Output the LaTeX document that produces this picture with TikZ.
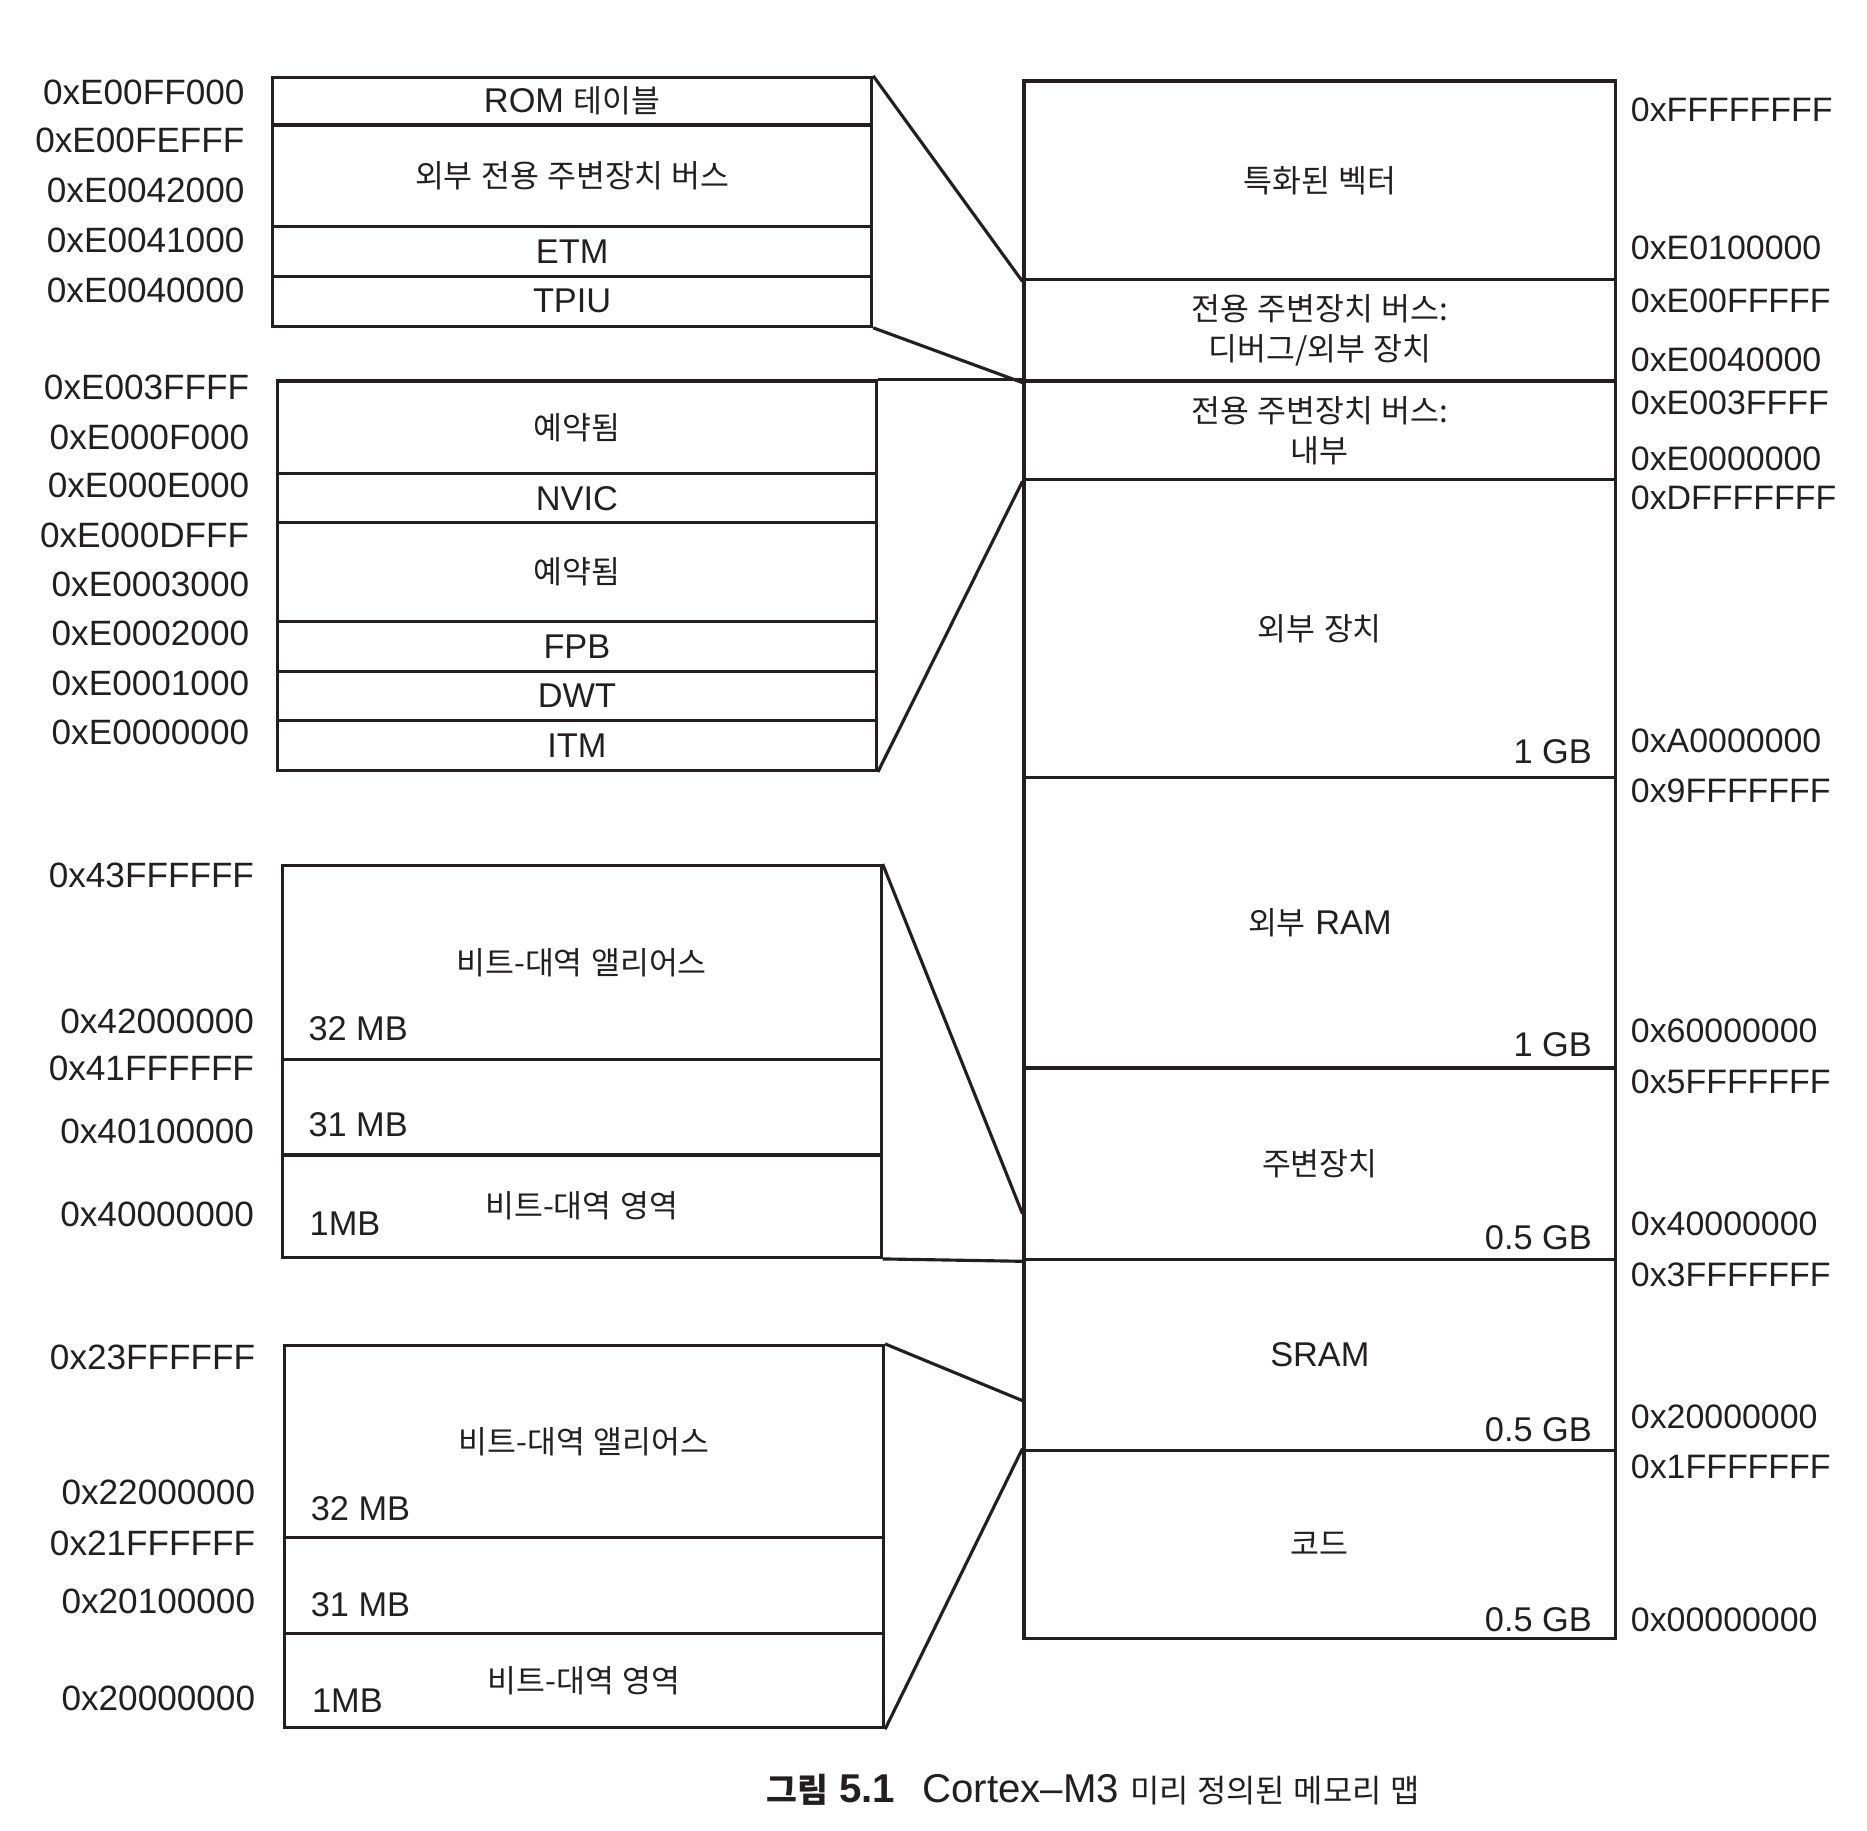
\documentclass[tikz,border=0pt]{standalone}
\usepackage{fontspec}
\setmainfont{Liberation Sans}
\newfontfamily\krfont{Noto Sans CJK KR}[WordSpace=1.2]
\newcommand\kr[1]{{\krfont\fontsize{7.5}{9.6}\selectfont #1}}
\usetikzlibrary{calc}
\definecolor{ink}{HTML}{231F20}
\tikzset{
  every node/.style={font=\fontsize{8.2}{9.6}\selectfont, text=ink},
  cellbox/.style={draw=ink, line width=0.75pt, inner sep=0pt, align=center},
  hexl/.style={inner sep=0pt, font=\fontsize{8.4}{9.6}\selectfont},
  hexr/.style={inner sep=0pt, font=\fontsize{8.1}{9.6}\selectfont},
  conn/.style={draw=ink, line width=0.75pt},
}
% name, x1, y1, x2, y2, text
\newcommand\mcell[6]{\node[cellbox, minimum width={(#4-#2)*0.01cm}, minimum height={(#5-#3)*0.01cm}] (#1) at ({(#2+#4)/2},{(#3+#5)/2}) {#6};}
\begin{document}
\begin{tikzpicture}[x=0.01cm, y=-0.01cm]
\useasboundingbox (0,0) rectangle (1568,1537);

% ---------- right column ----------
\mcell{vec}{860}{68}{1357}{235}{\kr{특화된 벡터}}
\mcell{dbg}{860}{235}{1357}{320}{\kr{전용 주변장치 버스:}\\\kr{디버그/외부 장치}}
\mcell{intl}{860}{320}{1357}{403}{\kr{전용 주변장치 버스:}\\\kr{내부}}
\mcell{ext}{860}{403}{1357}{653}{\kr{외부 장치}}
\mcell{eram}{860}{653}{1357}{897}{\kr{외부} RAM}
\mcell{peri}{860}{897}{1357}{1058}{\kr{주변장치}}
\mcell{sram}{860}{1058}{1357}{1218}{SRAM}
\mcell{code}{860}{1218}{1357}{1376}{\kr{코드}}

\node[anchor=east] (gb1) at ($(ext.south east)+(-9,-23)$) {1 GB};
\node[anchor=east] (gb2) at ($(eram.south east)+(-9,-21)$) {1 GB};
\node[anchor=east] (gb3) at ($(peri.south east)+(-9,-20)$) {0.5 GB};
\node[anchor=east] (gb4) at ($(sram.south east)+(-9,-19)$) {0.5 GB};
\node[anchor=east] (gb5) at ($(code.south east)+(-9,-17)$) {0.5 GB};

\foreach \t/\yy [count=\i] in {0xFFFFFFFF/92, 0xE0100000/208, 0xE00FFFFF/253, 0xE0040000/302,
  0xE003FFFF/338, 0xE0000000/385, 0xDFFFFFFF/418, 0xA0000000/622, 0x9FFFFFFF/664,
  0x60000000/866, 0x5FFFFFFF/909, 0x40000000/1028, 0x3FFFFFFF/1071, 0x20000000/1190,
  0x1FFFFFFF/1232, 0x00000000/1360}
  \node[hexr, anchor=west] (ra\i) at (1369,\yy) {\t};

% ---------- group A ----------
\mcell{rom}{229}{65}{732}{105}{ROM \kr{테이블}}
\mcell{eppb}{229}{105}{732}{190}{\kr{외부 전용 주변장치 버스}}
\mcell{etm}{229}{190}{732}{232}{ETM}
\mcell{tpiu}{229}{232}{732}{274}{TPIU}
\foreach \t/\yy [count=\i] in {0xE00FF000/78, 0xE00FEFFF/118, 0xE0042000/160, 0xE0041000/202, 0xE0040000/244}
  \node[hexl, anchor=east] (la\i) at (206,\yy) {\t};

% ---------- group B ----------
\mcell{res1}{233}{320}{736}{398}{\kr{예약됨}}
\mcell{nvic}{233}{398}{736}{439}{NVIC}
\mcell{res2}{233}{439}{736}{522}{\kr{예약됨}}
\mcell{fpb}{233}{522}{736}{564}{FPB}
\mcell{dwt}{233}{564}{736}{605}{DWT}
\mcell{itm}{233}{605}{736}{647}{ITM}
\foreach \t/\yy [count=\i] in {0xE003FFFF/325, 0xE000F000/367, 0xE000E000/408, 0xE000DFFF/450,
  0xE0003000/491, 0xE0002000/532, 0xE0001000/574, 0xE0000000/615}
  \node[hexl, anchor=east] (lb\i) at (210,\yy) {\t};

% ---------- group C ----------
\mcell{alias1}{237}{727}{740}{890}{\kr{비트-대역 앨리어스}}
\mcell{mid1}{237}{890}{740}{970}{}
\mcell{reg1}{237}{970}{740}{1056}{\kr{비트-대역 영역}}
\node[anchor=west] (c32) at ($(alias1.south west)+(11,-27)$) {32 MB};
\node[anchor=west] (c31) at ($(mid1.south west)+(11,-27)$) {31 MB};
\node[anchor=west] (c1) at ($(reg1.south west)+(12,-30)$) {1MB};
\foreach \t/\yy [count=\i] in {0x43FFFFFF/735, 0x42000000/858, 0x41FFFFFF/897, 0x40100000/950, 0x40000000/1020}
  \node[hexl, anchor=east] (lc\i) at (214,\yy) {\t};

% ---------- group D ----------
\mcell{alias2}{239}{1130}{742}{1291}{\kr{비트-대역 앨리어스}}
\mcell{mid2}{239}{1291}{742}{1372}{}
\mcell{reg2}{239}{1372}{742}{1451}{\kr{비트-대역 영역}}
\node[anchor=west] (d32) at ($(alias2.south west)+(11,-25)$) {32 MB};
\node[anchor=west] (d31) at ($(mid2.south west)+(11,-26)$) {31 MB};
\node[anchor=west] (d1) at ($(reg2.south west)+(12,-24)$) {1MB};
\foreach \t/\yy [count=\i] in {0x23FFFFFF/1140, 0x22000000/1253, 0x21FFFFFF/1296, 0x20100000/1345, 0x20000000/1426}
  \node[hexl, anchor=east] (ld\i) at (215,\yy) {\t};

% ---------- connectors ----------
\draw[conn] (rom.north east) -- (vec.south west);
\draw[conn] (tpiu.south east) -- (dbg.south west);
\draw[conn] (res1.north east) -- (intl.north west);
\draw[conn] (itm.south east) -- (intl.south west);
\coordinate (pbA) at ($(peri.south west)+(0,-40)$);
\draw[conn] (alias1.north east) -- (pbA);
\draw[conn] (reg1.south east) -- (peri.south west);
\coordinate (pbB) at ($(sram.south west)+(0,-43)$);
\draw[conn] (alias2.north east) -- (pbB);
\draw[conn] (reg2.south east) -- (code.north west);

% ---------- caption ----------
\node (cap) at (918,1503) {\fontsize{9.6}{12}\selectfont\textbf{{\krfont\fontsize{8}{8}\selectfont 그림} 5.1}\hspace{6.5pt}Cortex–M3 {\krfont\fontsize{7.6}{8}\selectfont 미리 정의된 메모리 맵}};
\end{tikzpicture}
\end{document}
